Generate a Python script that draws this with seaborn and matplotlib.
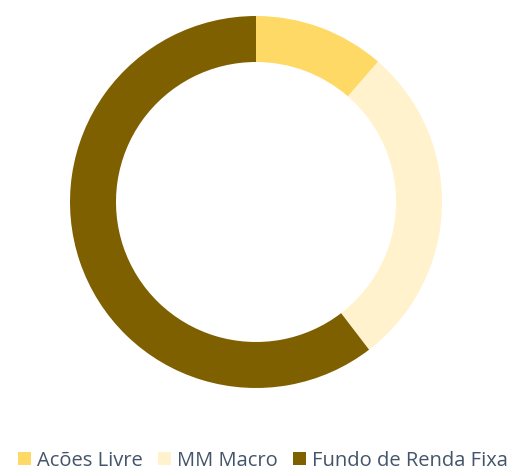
import matplotlib
matplotlib.use("Agg")
import matplotlib.pyplot as plt
import seaborn as sns
from matplotlib.patches import Patch

# Dados da carteira
categorias = ['Acões Livre', 'MM Macro', 'Fundo de Renda Fixa']
valores = [11.4, 28.2, 60.4]
cores = ['#FFD966', '#FFF2CC', '#7F6000']

sns.set_theme(style='white')
plt.rcParams['font.family'] = ['Open Sans', 'DejaVu Sans']

fig = plt.figure(figsize=(5.12, 4.70), dpi=100)
ax = fig.add_axes([(256 - 186) / 512, (470 - 388) / 470, 372 / 512, 372 / 470])

ax.pie(valores, colors=cores, startangle=90, counterclock=False,
       radius=1, wedgeprops=dict(width=46 / 186, edgecolor='none'))
ax.set_xlim(-1, 1)
ax.set_ylim(-1, 1)
ax.set_aspect('equal')
ax.axis('off')

# Legenda em baixo
handles = [Patch(facecolor=c, edgecolor='none') for c in cores]
fig.legend(handles, categorias, loc='center', bbox_to_anchor=(0.513, 0.02),
           ncol=3, frameon=False, fontsize=14.5, labelcolor='#44546A',
           handlelength=0.65, handleheight=0.65, handletextpad=0.3,
           columnspacing=0.75, borderaxespad=0)

fig.savefig('out.png', dpi=100)
